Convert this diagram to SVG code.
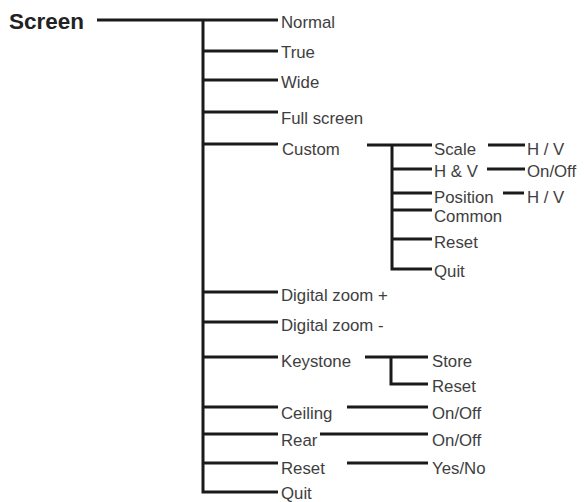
<svg xmlns="http://www.w3.org/2000/svg" width="586" height="502" viewBox="0 0 586 502">
<style>
.bg{fill:#ffffff}
.c{stroke:#1a1a1a;stroke-width:3;fill:none;stroke-linejoin:miter}
.t{font-family:"Liberation Sans",Arial,sans-serif;font-size:16.8px;fill:#3e3e3e}
.h{font-family:"Liberation Sans",Arial,sans-serif;font-size:22.5px;font-weight:bold;fill:#222222}
</style>
<rect class="bg" x="0" y="0" width="586" height="502"/>
<g id="connectors">
<path class="c" d="M97,20 H278"/>
<path class="c" d="M203,20 V492 H278"/>
<path class="c" d="M203,51 H278"/>
<path class="c" d="M203,80 H278"/>
<path class="c" d="M203,112 H278"/>
<path class="c" d="M203,144 H278"/>
<path class="c" d="M203,292 H278"/>
<path class="c" d="M203,322 H278"/>
<path class="c" d="M203,357 H278"/>
<path class="c" d="M203,407 H278"/>
<path class="c" d="M203,434 H278"/>
<path class="c" d="M203,463 H278"/>
<path class="c" d="M367,145 H432"/>
<path class="c" d="M392,145 V269 H432"/>
<path class="c" d="M392,169 H432"/>
<path class="c" d="M392,193 H432"/>
<path class="c" d="M392,210 H432"/>
<path class="c" d="M392,239 H432"/>
<path class="c" d="M488,145 H525"/>
<path class="c" d="M487,169 H525"/>
<path class="c" d="M503,193 H524"/>
<path class="c" d="M365,357 H428"/>
<path class="c" d="M391,357 V384 H428"/>
<path class="c" d="M347,407 H428"/>
<path class="c" d="M320,434 H428"/>
<path class="c" d="M347,463 H428"/>
</g>
<g id="screen"><text class="h" x="9" y="29">Screen</text></g>
<g id="normal"><text class="t" x="281" y="28">Normal</text></g>
<g id="true"><text class="t" x="281" y="58">True</text></g>
<g id="wide"><text class="t" x="281" y="88">Wide</text></g>
<g id="fullscreen"><text class="t" x="281" y="124">Full screen</text></g>
<g id="custom"><text class="t" x="282" y="155">Custom</text></g>
<g id="scale"><text class="t" x="434" y="155">Scale</text></g>
<g id="scale-hv"><text class="t" x="527" y="155">H / V</text></g>
<g id="hv"><text class="t" x="434" y="177">H &amp; V</text></g>
<g id="hv-onoff"><text class="t" x="527" y="177">On/Off</text></g>
<g id="position"><text class="t" x="434" y="203">Position</text></g>
<g id="position-hv"><text class="t" x="527" y="203">H / V</text></g>
<g id="common"><text class="t" x="434" y="222">Common</text></g>
<g id="custom-reset"><text class="t" x="434" y="248">Reset</text></g>
<g id="custom-quit"><text class="t" x="434" y="277">Quit</text></g>
<g id="dzoom-plus"><text class="t" x="281" y="301">Digital zoom +</text></g>
<g id="dzoom-minus"><text class="t" x="281" y="331">Digital zoom -</text></g>
<g id="keystone"><text class="t" x="281" y="367">Keystone</text></g>
<g id="store"><text class="t" x="432" y="367">Store</text></g>
<g id="keystone-reset"><text class="t" x="432" y="392">Reset</text></g>
<g id="ceiling"><text class="t" x="281" y="419">Ceiling</text></g>
<g id="ceiling-onoff"><text class="t" x="432" y="419">On/Off</text></g>
<g id="rear"><text class="t" x="281" y="446">Rear</text></g>
<g id="rear-onoff"><text class="t" x="432" y="446">On/Off</text></g>
<g id="reset"><text class="t" x="281" y="474">Reset</text></g>
<g id="yesno"><text class="t" x="432" y="474">Yes/No</text></g>
<g id="quit"><text class="t" x="281" y="499">Quit</text></g>
</svg>
